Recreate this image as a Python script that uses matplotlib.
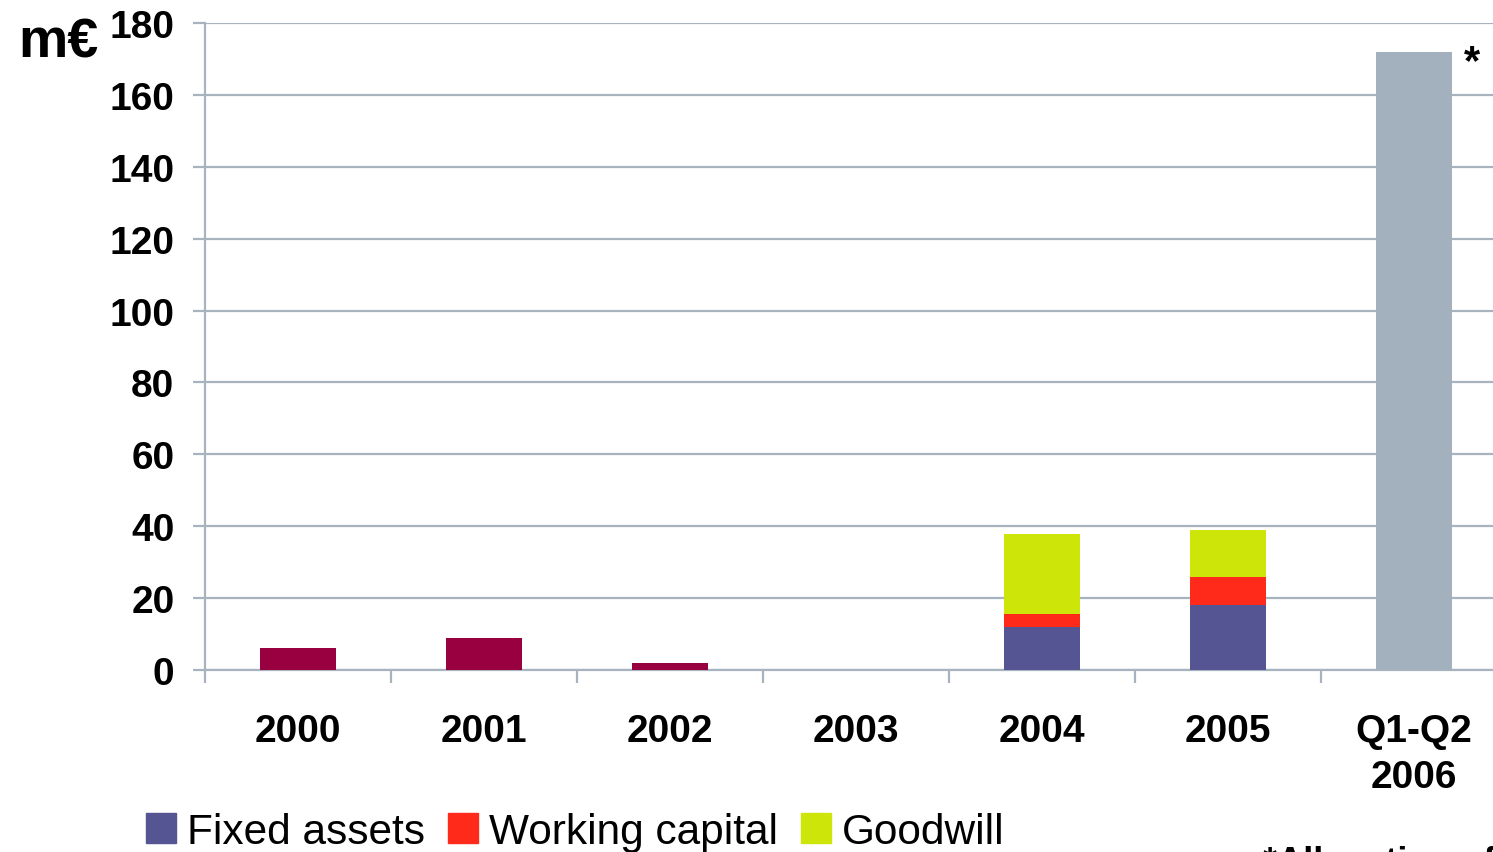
import matplotlib
matplotlib.use("Agg")
import matplotlib.pyplot as plt
from matplotlib.patches import Patch
import numpy as np

plt.rcParams['font.family'] = ['Liberation Sans', 'DejaVu Sans']

# investment by year, m EUR
years = ["2000", "2001", "2002", "2003", "2004", "2005", "Q1-Q2\n2006"]
total = [6.2, 9.0, 2.0, 0.0, 0.0, 0.0, 172.0]
total_colors = ["#990040", "#990040", "#990040", "#990040",
                "#990040", "#990040", "#A2B1BD"]
fixed_assets = [0, 0, 0, 0, 12.0, 18.0, 0]
working_capital = [0, 0, 0, 0, 3.6, 8.0, 0]
goodwill = [0, 0, 0, 0, 22.2, 13.0, 0]
yticks = [0, 20, 40, 60, 80, 100, 120, 140, 160, 180]

c_fixed = "#565594"
c_wc = "#FF2A1A"
c_gw = "#CEE50A"
grid_c = "#A7B4C0"

fig = plt.figure(figsize=(14.93, 8.53), dpi=100)
ax = fig.add_axes([205 / 1493, 1 - 671 / 853, 1302 / 1493, 647 / 853])

x = np.arange(len(years))
w = 0.405
ax.bar(x, total, w, color=total_colors, zorder=3)
ax.bar(x, fixed_assets, w, color=c_fixed, zorder=3)
bottom = np.array(fixed_assets)
ax.bar(x, working_capital, w, bottom=bottom, color=c_wc, zorder=3)
bottom = bottom + np.array(working_capital)
ax.bar(x, goodwill, w, bottom=bottom, color=c_gw, zorder=3)

ax.set_xlim(-0.5, len(years) - 0.5)
ax.set_ylim(0, 180)
ax.set_yticks(yticks)
ax.set_yticklabels([str(t) for t in yticks], fontsize=28, fontweight="bold")
ax.yaxis.grid(True, color=grid_c, linewidth=1.6, zorder=0)
ax.tick_params(axis="y", length=9, width=1.6, color=grid_c, pad=13)

ax.set_xticks(x)
ax.set_xticklabels(years, fontsize=28, fontweight="bold", linespacing=1.34)
ax.set_xticks(np.arange(len(years)) - 0.5, minor=True)
ax.tick_params(axis="x", which="major", length=0, pad=31)
ax.tick_params(axis="x", which="minor", length=9, width=1.6, color=grid_c)

for s in ["top", "right"]:
    ax.spines[s].set_visible(False)
for s in ["left", "bottom"]:
    ax.spines[s].set_color(grid_c)
    ax.spines[s].set_linewidth(1.6)

# footnote marker next to the half-year bar
ax.text(6.31, 169, "*", fontsize=30, fontweight="bold", ha="center", va="center")

fig.text(18 / 1493, 1 - 44 / 853, "m€", fontsize=40, fontweight="bold",
         ha="left", va="center")

handles = [Patch(color=c_fixed, label="Fixed assets"),
           Patch(color=c_wc, label="Working capital"),
           Patch(color=c_gw, label="Goodwill")]
fig.legend(handles=handles, loc="center left",
           bbox_to_anchor=(146 / 1493, 1 - 833 / 853), ncol=3, frameon=False,
           fontsize=30.5, handlelength=0.7, handleheight=0.7,
           handletextpad=0.26, columnspacing=0.55, borderpad=0, borderaxespad=0)

fig.text(1263 / 1493, 1 - 846 / 853, "*Allocation of goodwill pending",
         fontsize=26, fontweight="bold", ha="left", va="top")

fig.savefig("out.png", dpi=100)
